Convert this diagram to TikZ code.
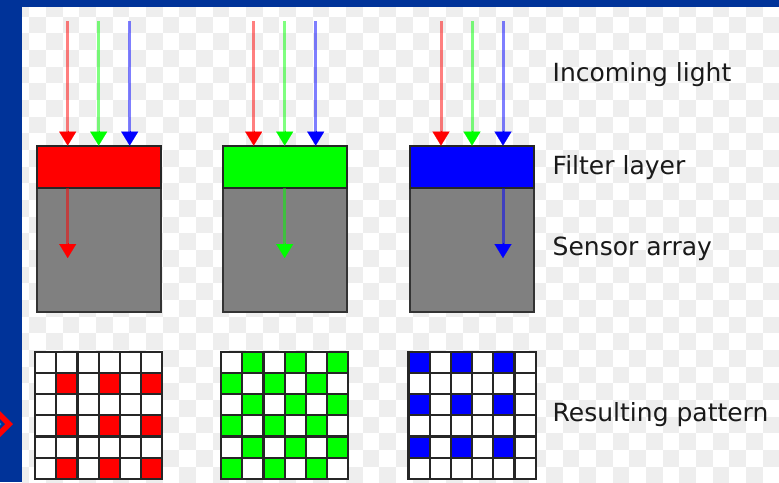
\documentclass[tikz,border=0pt]{standalone}
\usepackage{fontspec}
\setmainfont{DejaVu Sans}
\usetikzlibrary{arrows.meta,calc}
\definecolor{bgblue}{RGB}{0,51,153}
\definecolor{chk}{RGB}{238,238,238}
\definecolor{txt}{RGB}{26,26,26}
\definecolor{sensorgray}{RGB}{128,128,128}
\definecolor{pR}{RGB}{255,0,0}
\definecolor{pG}{RGB}{0,255,0}
\definecolor{pB}{RGB}{0,0,255}
\tikzset{
  shaft/.style={line width=3pt, draw opacity=0.5, shorten >=13pt},
  tiphead/.style={-{Triangle[width=17pt,length=14pt]}, line width=0.1pt},
  filterbox/.style={draw=black!85, line width=2pt, minimum width=124pt, minimum height=42pt, inner sep=0pt, outer sep=0pt},
  sensorbox/.style={draw=black!80, line width=2pt, minimum width=124pt, minimum height=124pt, fill=sensorgray, inner sep=0pt, outer sep=0pt},
  cell/.style={draw=black!85, line width=2.2pt, minimum size=21.2pt, inner sep=0pt, outer sep=0pt},
  lbl/.style={anchor=base west, inner sep=0pt, text=txt, font=\fontsize{25}{30}\selectfont},
}
\begin{document}
\begin{tikzpicture}[x=1pt,y=-1pt]
\useasboundingbox (0,0) rectangle (779,482);
% background
\fill[bgblue] (0,0) rectangle (779,482);
\begin{scope}
  \clip (22,7) rectangle (779,482);
  \fill[white] (22,7) rectangle (779,482);
  \foreach \c in {0,...,46}{
    \foreach \r in {0,...,28}{
      \pgfmathtruncatemacro\pty{mod(\c+\r,2)}
      \ifnum\pty=0
        \fill[chk] ({12.7+\c*16.667},{\r*16.667}) rectangle ++(16.667,16.667);
      \fi
    }
  }
\end{scope}
% bullet
\fill[red] (-1,410) -- (13,424) -- (-1,438) -- (-15,424) -- cycle;
\fill[bgblue] (-1,418) -- (5,424) -- (-1,430) -- (-7,424) -- cycle;
\fill[cyan!70!blue] (0,424) circle (1.5);

% columns
\foreach \nm/\X/\col in {R/98.7/pR, G/284.7/pG, B/472/pB}{
  \node[sensorbox] (s\nm) at (\X,249.7) {};
  \node[filterbox, fill=\col] (f\nm) at (\X,166.6) {};
  % incoming light
  \coordinate (ir\nm) at (\X-31,21);
  \coordinate (ig\nm) at (\X,21);
  \coordinate (ib\nm) at (\X+31,21);
  \draw[shaft, draw=pR] (ir\nm) -- (ir\nm |- f\nm.north);
  \draw[shaft, draw=pG] (ig\nm) -- (ig\nm |- f\nm.north);
  \draw[shaft, draw=pB] (ib\nm) -- (ib\nm |- f\nm.north);
  \draw[tiphead, pR] ($(ir\nm |- f\nm.north)+(0,-15)$) -- (ir\nm |- f\nm.north);
  \draw[tiphead, pG] ($(ig\nm |- f\nm.north)+(0,-15)$) -- (ig\nm |- f\nm.north);
  \draw[tiphead, pB] ($(ib\nm |- f\nm.north)+(0,-15)$) -- (ib\nm |- f\nm.north);
}
% transmitted light
\coordinate (tR) at (67.7,258);
\coordinate (tG) at (284.7,258);
\coordinate (tB) at (503,258);
\draw[shaft, draw=pR] (tR |- fR.south) -- (tR);
\draw[tiphead, pR] ($(tR)+(0,-15)$) -- (tR);
\draw[shaft, draw=pG] (fG.south) -- (tG);
\draw[tiphead, pG] ($(tG)+(0,-15)$) -- (tG);
\draw[shaft, draw=pB] (tB |- fB.south) -- (tB);
\draw[tiphead, pB] ($(tB)+(0,-15)$) -- (tB);

% patterns
\foreach \r in {0,...,5}{
  \foreach \c in {0,...,5}{
    \pgfmathtruncatemacro\rodd{mod(\r,2)}
    \pgfmathtruncatemacro\codd{mod(\c,2)}
    \pgfmathtruncatemacro\sodd{mod(\r+\c,2)}
    % red grid
    \ifnum\rodd\codd=11 \def\fc{pR}\else\def\fc{white}\fi
    \node[cell, fill=\fc] (cR\r\c) at ({98.7-63.6+10.6+\c*21.2},{351.7+10.6+\r*21.2}) {};
    % green grid
    \ifnum\sodd=1 \def\fc{pG}\else\def\fc{white}\fi
    \node[cell, fill=\fc] (cG\r\c) at ({284.7-63.6+10.6+\c*21.2},{351.7+10.6+\r*21.2}) {};
    % blue grid
    \ifnum\rodd\codd=0 \def\fc{pB}\else\def\fc{white}\fi
    \node[cell, fill=\fc] (cB\r\c) at ({472-63.6+10.6+\c*21.2},{351.7+10.6+\r*21.2}) {};
  }
}

% labels
\node[lbl] (l1) at (552.5,81.7) {Incoming light};
\node[lbl] (l2) at (552.5,174.3) {Filter layer};
\node[lbl] (l3) at (552.5,255) {Sensor array};
\node[lbl] (l4) at (552.5,421.7) {Resulting pattern};
\end{tikzpicture}
\end{document}
